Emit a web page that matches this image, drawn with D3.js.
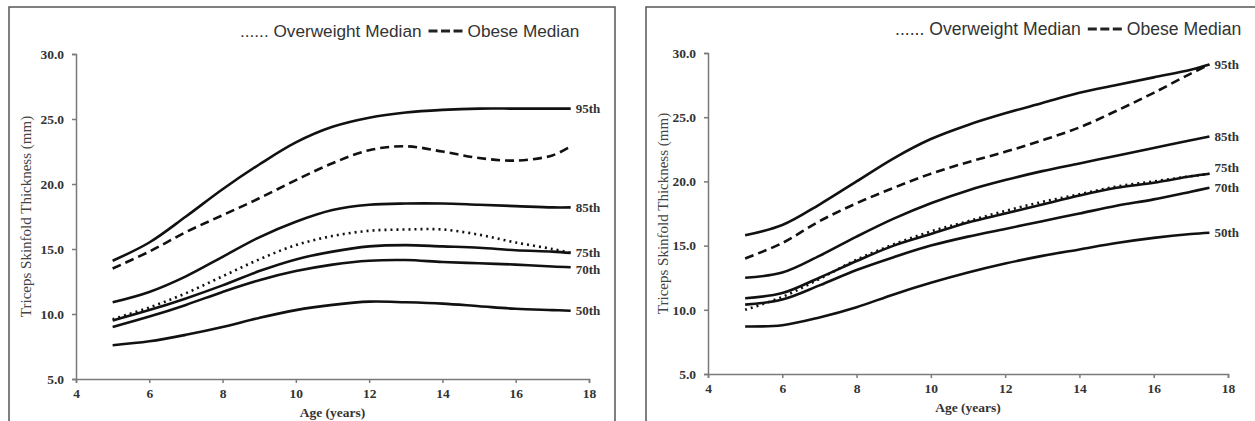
<!DOCTYPE html>
<html>
<head>
<meta charset="utf-8">
<script src="https://cdn.jsdelivr.net/npm/d3@7"></script>
<style>
  body { margin: 0; background: #fff; }
  svg { display: block; }
  .tick text { font-family: "Liberation Serif", "Times New Roman", serif; font-weight: bold; font-size: 13.5px; fill: #333; }
  .axis path, .axis line { stroke: #7a7a7a; stroke-width: 1.5; }
</style>
</head>
<body>
<div id="chart"></div>
<script>
// ages shared by every curve
const ages = [5, 6, 7, 8, 9, 10, 11, 12, 13, 14, 15, 16, 17, 17.5];

// left panel
const leftP95   = [14.1, 15.5, 17.5, 19.6, 21.5, 23.2, 24.4, 25.1, 25.5, 25.7, 25.8, 25.8, 25.8, 25.8];
const leftObese = [13.5, 14.8, 16.3, 17.6, 18.9, 20.3, 21.6, 22.6, 22.9, 22.5, 22.0, 21.8, 22.2, 22.9];
const leftP85   = [10.9, 11.7, 12.9, 14.4, 15.9, 17.1, 18.0, 18.4, 18.5, 18.5, 18.4, 18.3, 18.2, 18.2];
const leftOver  = [9.6, 10.5, 11.6, 12.9, 14.2, 15.3, 16.0, 16.4, 16.5, 16.5, 16.1, 15.5, 15.0, 14.7];
const leftP75   = [9.5, 10.3, 11.2, 12.2, 13.3, 14.2, 14.8, 15.2, 15.3, 15.2, 15.1, 14.9, 14.8, 14.7];
const leftP70   = [9.0, 9.8, 10.7, 11.7, 12.6, 13.3, 13.8, 14.1, 14.15, 14.0, 13.9, 13.8, 13.65, 13.6];
const leftP50   = [7.6, 7.9, 8.4, 9.0, 9.7, 10.3, 10.7, 10.95, 10.9, 10.8, 10.6, 10.4, 10.3, 10.25];

// right panel
const rightP95   = [15.8, 16.6, 18.2, 20.0, 21.8, 23.3, 24.4, 25.3, 26.1, 26.9, 27.5, 28.1, 28.7, 29.1];
const rightObese = [14.0, 15.2, 16.9, 18.3, 19.5, 20.6, 21.5, 22.3, 23.2, 24.2, 25.5, 26.9, 28.4, 29.1];
const rightP85   = [12.5, 12.9, 14.2, 15.7, 17.1, 18.3, 19.3, 20.1, 20.8, 21.4, 22.0, 22.6, 23.2, 23.5];
const rightOver  = [10.0, 11.0, 12.4, 13.9, 15.1, 16.1, 16.9, 17.7, 18.4, 19.0, 19.6, 20.0, 20.4, 20.6];
const rightP75   = [10.9, 11.3, 12.5, 13.8, 15.0, 15.9, 16.8, 17.5, 18.2, 18.9, 19.5, 19.9, 20.4, 20.6];
const rightP70   = [10.4, 10.8, 11.9, 13.1, 14.1, 15.0, 15.7, 16.3, 16.9, 17.5, 18.1, 18.6, 19.2, 19.5];
const rightP50   = [8.7, 8.8, 9.4, 10.2, 11.2, 12.1, 12.9, 13.6, 14.2, 14.7, 15.2, 15.6, 15.9, 16.0];

const xTicks = [4, 6, 8, 10, 12, 14, 16, 18];
const yTicks = [5, 10, 15, 20, 25, 30];
const legendOver = "Overweight Median";
const legendObese = "Obese Median";
const xTitle = "Age (years)";
const yTitle = "Triceps Skinfold Thickness (mm)";

const W = 1255, H = 421;
const svg = d3.select("#chart").append("svg").attr("width", W).attr("height", H);

function drawPanel(p) {
    const x = d3.scaleLinear().domain([4, 18]).range([p.left, p.right]);
    const y = d3.scaleLinear().domain([5, 30]).range([p.bottom, p.top]);
    const g = svg.append("g");

    // frame
    g.append("rect")
        .attr("x", p.frameX).attr("y", 7)
        .attr("width", p.frameW).attr("height", 430)
        .attr("fill", "none").attr("stroke", "#555").attr("stroke-width", 1.5);

    // axes
    g.append("g").attr("class", "axis")
        .attr("transform", "translate(0," + p.bottom + ")")
        .call(d3.axisBottom(x).tickValues(xTicks).tickSize(4).tickPadding(5).tickFormat(d3.format("d")));
    g.append("g").attr("class", "axis")
        .attr("transform", "translate(" + p.left + ",0)")
        .call(d3.axisLeft(y).tickValues(yTicks).tickSize(4).tickPadding(8).tickFormat(d3.format(".1f")));

    g.append("text")
        .attr("x", (p.left + p.right) / 2).attr("y", p.bottom + 38)
        .attr("text-anchor", "middle")
        .style("font-family", "'Liberation Serif', serif").style("font-weight", "bold")
        .style("font-size", "13.5px").style("fill", "#333")
        .text(xTitle);
    g.append("text")
        .attr("transform", "translate(" + (p.frameX + 22) + "," + ((p.top + p.bottom) / 2) + ") rotate(-90)")
        .attr("text-anchor", "middle")
        .style("font-family", "'Liberation Serif', serif")
        .style("font-size", "15px").style("fill", "#444")
        .text(yTitle);

    const line = d3.line()
        .x((d, i) => x(ages[i]))
        .y(d => y(d))
        .curve(d3.curveCatmullRom.alpha(0.5));

    p.series.forEach(s => {
        g.append("path")
            .datum(s.values)
            .attr("d", line)
            .attr("fill", "none")
            .attr("stroke", "#111")
            .attr("stroke-width", 2.6)
            .attr("stroke-dasharray", s.style === "dash" ? "9,5" : s.style === "dot" ? "2,4" : null);
        if (s.label) {
            g.append("text")
                .attr("x", x(ages[ages.length - 1]) + 5)
                .attr("y", y(s.values[s.values.length - 1]) + (s.dy || 0))
                .attr("dy", "0.35em")
                .style("font-family", "'Liberation Serif', serif").style("font-weight", "bold")
                .style("font-size", "13px").style("fill", "#333")
                .text(s.label);
        }
    });

    // legend
    const lg = g.append("g").attr("transform", "translate(" + p.legendX + "," + p.legendY + ")");
    const t1 = lg.append("text").attr("x", 0).attr("y", 0)
        .style("font-family", "'Liberation Sans', Arial, sans-serif").style("font-size", p.legendSize).style("fill", "#333")
        .text("...... " + legendOver);
    const w1 = t1.node().getComputedTextLength();
    lg.append("line")
        .attr("x1", w1 + 7).attr("x2", w1 + 41).attr("y1", -6).attr("y2", -6)
        .attr("stroke", "#222").attr("stroke-width", 3).attr("stroke-dasharray", "9,3.5");
    lg.append("text").attr("x", w1 + 46).attr("y", 0)
        .style("font-family", "'Liberation Sans', Arial, sans-serif").style("font-size", p.legendSize).style("fill", "#333")
        .text(legendObese);
}

drawPanel({
    left: 76, right: 589, top: 54, bottom: 379,
    frameX: 9, frameW: 606,
    legendX: 240, legendY: 37, legendSize: "17.2px",
    series: [
        { values: leftP95, label: "95th" },
        { values: leftObese, style: "dash" },
        { values: leftP85, label: "85th" },
        { values: leftOver, style: "dot" },
        { values: leftP75, label: "75th" },
        { values: leftP70, label: "70th", dy: 2 },
        { values: leftP50, label: "50th" }
    ]
});

drawPanel({
    left: 708, right: 1228, top: 53, bottom: 374,
    frameX: 646, frameW: 640,
    legendX: 895, legendY: 35, legendSize: "17.6px",
    series: [
        { values: rightP95, label: "95th" },
        { values: rightObese, style: "dash" },
        { values: rightP85, label: "85th" },
        { values: rightOver, style: "dot" },
        { values: rightP75, label: "75th", dy: -6 },
        { values: rightP70, label: "70th" },
        { values: rightP50, label: "50th" }
    ]
});
</script>
</body>
</html>
